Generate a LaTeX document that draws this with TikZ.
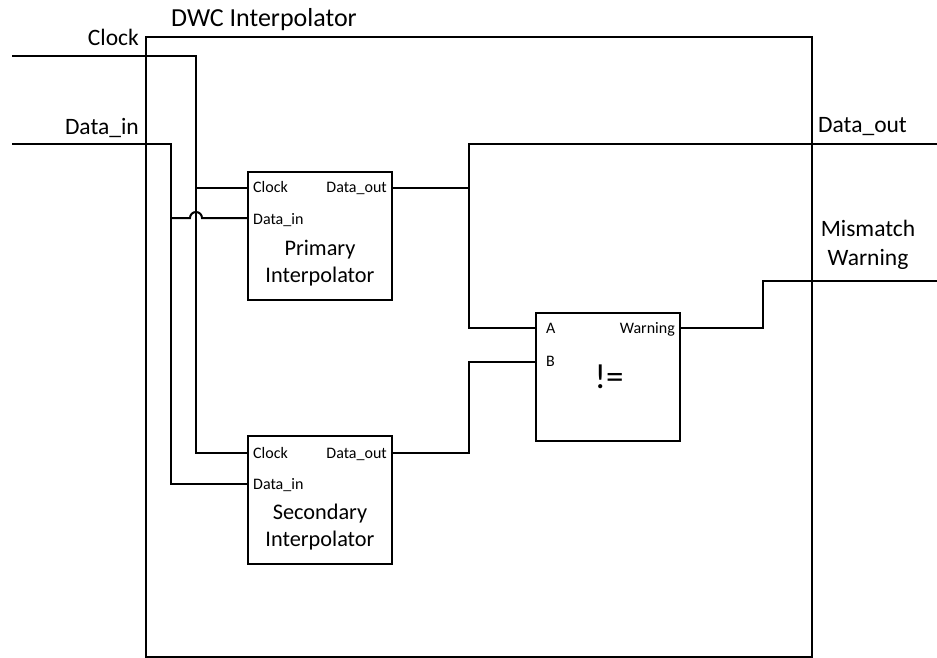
\documentclass[tikz,border=0pt]{standalone}
\usepackage{fontspec}
\setmainfont{Carlito}
\begin{document}
\begin{tikzpicture}[x=1pt,y=-1pt,
  wire/.style={line width=2pt, line join=miter},
  blk/.style={draw, line width=2pt, minimum width=144pt, minimum height=128pt, inner sep=0pt},
  port/.style={inner sep=0pt, font=\fontsize{16}{16}\selectfont},
  big/.style={inner sep=0pt, font=\fontsize{22.3}{27}\selectfont, align=center},
  outer/.style={inner sep=0pt, font=\fontsize{23.5}{29}\selectfont, align=center}]
\useasboundingbox (0,0) rectangle (937,658);
% outer box
\draw[line width=2pt] (146,657) -- (146,37) -- (812,37) -- (812,657) -- cycle;
\node[inner sep=0pt, anchor=base west, font=\fontsize{26}{30}\selectfont] (title) at (171,27) {DWC Interpolator};
% outer labels
\node[outer, anchor=base east] (lclk) at (139,46) {Clock};
\node[outer, anchor=base east] (ldin) at (139,135) {Data\_in};
\node[outer, anchor=base west] (ldout) at (818,133) {Data\_out};
\node[outer, anchor=north] (lwarn) at (868,220) {Mismatch\\Warning};
% blocks
\node[blk] (prim) at (320,236) {};
\node[blk] (sec) at (320,499.5) {};
\node[blk] (cmp) at (608,377) {};
% block texts
\node[big] (primtxt) at (320,263) {Primary\\Interpolator};
\node[big] (sectxt) at (320,527) {Secondary\\Interpolator};
\node[inner sep=0pt, font=\fontsize{35}{35}\selectfont] (neq) at (609,377) {!=};
\node[port, anchor=base west] (pclkl) at (253,193) {Clock};
\node[port, anchor=base west] (pdinl) at (253,224) {Data\_in};
\node[port, anchor=base east] (poutl) at (387,193) {Data\_out};
\node[port, anchor=base west] (sclkl) at (253,458) {Clock};
\node[port, anchor=base west] (sdinl) at (253,489) {Data\_in};
\node[port, anchor=base east] (soutl) at (387,458) {Data\_out};
\node[port, anchor=base west] (al) at (546,333) {A};
\node[port, anchor=base west] (bl) at (546,366) {B};
\node[port, anchor=base east] (wl) at (675,333) {Warning};
% coordinates
\coordinate (clkin) at (12,56);
\coordinate (dinin) at (12,144);
\coordinate (clkc) at (196,56);
\coordinate (dinc) at (171,144);
\coordinate (pclk) at (prim.west |- 0,188);
\coordinate (pdin) at (prim.west |- 0,218);
\coordinate (pout) at (prim.east |- 0,188);
\coordinate (sclk) at (sec.west |- 0,453);
\coordinate (sdin) at (sec.west |- 0,484);
\coordinate (sout) at (sec.east |- 0,453);
\coordinate (ca) at (cmp.west |- 0,328);
\coordinate (cb) at (cmp.west |- 0,362);
\coordinate (cw) at (cmp.east |- 0,328);
\coordinate (doutend) at (937,144);
\coordinate (warnend) at (937,281);
\coordinate (hop) at (196,218);
% wires
\draw[wire] (clkin) -- (clkc) |- (sclk);
\draw[wire] (clkc |- pclk) -- (pclk);
\draw[wire] (dinin) -- (dinc) |- (sdin);
\draw[wire] (dinc |- pdin) -- ([xshift=-6pt]hop) arc[start angle=180, end angle=0, radius=6pt] -- (pdin);
\draw[wire] (pout) -- (469,188) -- (469,328) -- (ca);
\draw[wire] (469,188) |- (doutend);
\draw[wire] (sout) -- (469,453) |- (cb);
\draw[wire] (cw) -- (763,328) |- (warnend);
\end{tikzpicture}
\end{document}
